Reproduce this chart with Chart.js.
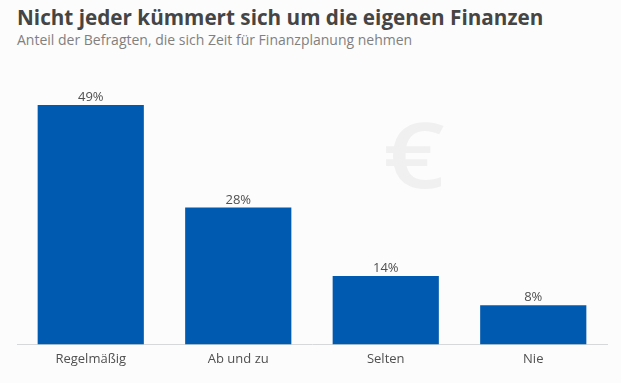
<!DOCTYPE html>
<html lang="de">
<head>
<meta charset="utf-8">
<title>Nicht jeder kümmert sich um die eigenen Finanzen</title>
<script src="https://cdn.jsdelivr.net/npm/chart.js@4"></script>
<style>
    html, body { margin: 0; padding: 0; background: #fcfcfc; }
    #wrap { position: relative; width: 621px; height: 383px; overflow: hidden; font-family: "Open Sans", sans-serif; }
    #wrap canvas { position: absolute; left: 0; top: 0; }
    h1 { position: absolute; left: 17px; top: 3px; margin: 0; font-size: 20.7px; line-height: 28px; font-weight: 700; color: #454545; white-space: nowrap; }
    p { position: absolute; left: 17px; top: 30px; margin: 0; font-size: 14px; line-height: 20px; color: #808080; white-space: nowrap; }
    #euro { position: absolute; left: 383px; top: 98px; font-weight: 600; font-size: 90px; line-height: 110px; color: #f0f0f0; transform: scaleX(1.2); transform-origin: left top; }
</style>
</head>
<body>
<div id="wrap">
    <h1>Nicht jeder kümmert sich um die eigenen Finanzen</h1>
    <p>Anteil der Befragten, die sich Zeit für Finanzplanung nehmen</p>
    <div id="euro">€</div>
    <canvas id="chart" width="621" height="383"></canvas>
</div>
<script>
const categories = ['Regelmäßig', 'Ab und zu', 'Selten', 'Nie'];
const shares = [49, 28, 14, 8];

// Prozentwerte über den Balken
const valueLabels = {
    id: 'valueLabels',
    afterDatasetsDraw(chart) {
        const { ctx } = chart;
        ctx.save();
        ctx.font = '13px "Open Sans"';
        ctx.fillStyle = '#505050';
        ctx.textAlign = 'center';
        ctx.textBaseline = 'bottom';
        chart.getDatasetMeta(0).data.forEach((bar, i) => {
            ctx.fillText(shares[i] + '%', bar.x, bar.y - 1);
        });
        ctx.restore();
    }
};

new Chart(document.getElementById('chart'), {
    type: 'bar',
    data: {
        labels: categories,
        datasets: [{
            data: shares,
            backgroundColor: '#005bb0',
            categoryPercentage: 0.72,
            barPercentage: 1
        }]
    },
    options: {
        responsive: false,
        animation: false,
        layout: { padding: { left: 17, right: 14, top: 100, bottom: 9 } },
        plugins: { legend: { display: false }, tooltip: { enabled: false } },
        scales: {
            y: { display: false, min: 0, max: 50 },
            x: {
                grid: { display: false, drawTicks: false },
                border: { color: '#d5d9d9', width: 1 },
                ticks: { color: '#505050', font: { family: '"Open Sans"', size: 13 }, padding: 7, maxRotation: 0 }
            }
        }
    },
    plugins: [valueLabels]
});
</script>
</body>
</html>
